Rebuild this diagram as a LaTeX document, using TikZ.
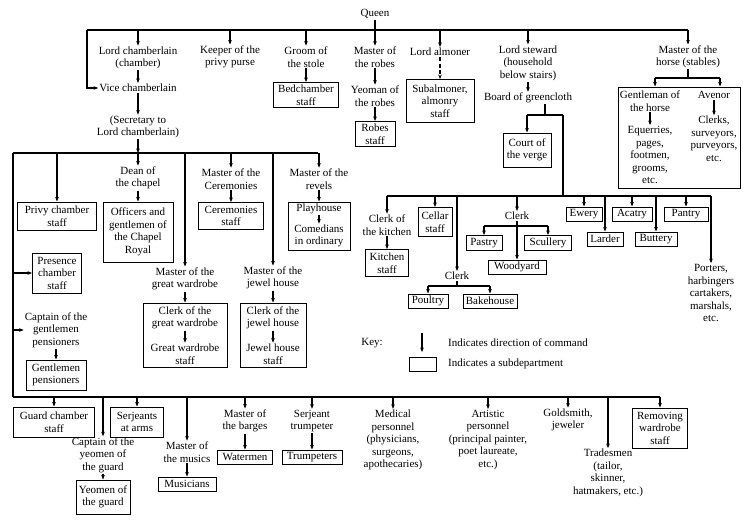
\documentclass[tikz,border=0pt]{standalone}
\usepackage{fontspec}
\setmainfont{Liberation Serif}
\usetikzlibrary{arrows.meta}
\begin{document}
\begin{tikzpicture}[x=1pt,y=-1pt,
  every node/.style={font=\fontsize{11}{12.5}\selectfont, align=center, inner sep=1pt},
  sub/.style={draw, line width=1pt, inner sep=2pt},
  ln/.style={line width=1.1pt},
  arr/.style={line width=1.1pt, -{Stealth[length=4.5pt,width=3.6pt]}},
]
\useasboundingbox (0,0) rectangle (743,523);

% ---------- top level ----------
\node (queen) at (375,14) {Queen};
\coordinate (tbL) at (87,30);
\coordinate (tbR) at (688,30);
\draw[ln] (tbL) -- (tbR);

\node (lc) at (138,58) {Lord chamberlain\\(chamber)};
\node (vc) at (138,88) {Vice chamberlain};
\node (sec) at (138,127) {(Secretary to\\Lord chamberlain)};
\node (kpp) at (230,57) {Keeper of the\\privy purse};
\node (gos) at (306,57) {Groom of\\the stole};
\node[sub, minimum width=65, minimum height=25] (bed) at (306,95) {Bedchamber\\staff};
\node (mor) at (375,57) {Master of\\the robes};
\node (yor) at (375,96) {Yeoman of\\the robes};
\node[sub, minimum width=40, minimum height=25] (robes) at (375,134) {Robes\\staff};
\node (la) at (440,52) {Lord almoner};
\node[sub, minimum width=68, minimum height=43] (suba) at (440,101) {Subalmoner,\\almonry\\staff};
\node (ls) at (528,63) {Lord steward\\(household\\below stairs)};
\node (bgc) at (528,98) {Board of greencloth};
\node[sub, minimum width=48, minimum height=34] (cov) at (527,150) {Court of\\the verge};
\node (moh) at (688,57) {Master of the\\horse (stables)};

\draw[arr] (tbL) |- (vc.west);
\draw[arr] (lc.north |- tbL) -- (lc.north);
\draw[arr] (lc) -- (vc);
\draw[arr] (vc) -- (sec);
\draw[arr] (kpp.north |- tbL) -- (kpp.north);
\draw[arr] (gos.north |- tbL) -- (gos.north);
\draw[arr] (gos) -- (bed);
\draw[arr] (queen) -- (mor);
\draw[arr] (mor) -- (yor);
\draw[arr] (yor) -- (robes);
\draw[arr] (la.north |- tbL) -- (la.north);
\draw[arr, dash pattern=on 4pt off 2.5pt] (la) -- (suba);
\draw[arr] (ls.north |- tbL) -- (ls.north);
\draw[arr] (ls) -- (bgc);

% board of greencloth branches
\coordinate (gcL) at (527,115);
\coordinate (gcM) at (545,115);
\coordinate (gcR) at (563,115);
\draw[ln] (gcM |- bgc.south) -- (gcM);
\draw[ln] (gcL) -- (gcR);
\draw[arr] (gcL) -- (cov.north);

% ---------- stables ----------
\coordinate (hbL) at (655,78);
\coordinate (hbR) at (720,78);
\draw[arr] (moh.north |- tbL) -- (moh.north);
\draw[ln] (moh.south) -- (moh.south |- hbL);
\draw[ln] (hbL) -- (hbR);
\node[draw, line width=1pt, minimum width=122, minimum height=101, inner sep=0pt] (stab) at (679,137.5) {};
\draw[arr] (hbL) -- (hbL |- stab.north);
\draw[arr] (hbR) -- (hbR |- stab.north);
\node (goh) at (650,101) {Gentleman of\\the horse};
\node (eq) at (650,155) {Equerries,\\pages,\\footmen,\\grooms,\\etc.};
\node (av) at (714,95) {Avenor};
\node (clk) at (714,139) {Clerks,\\surveyors,\\purveyors,\\etc.};
\draw[arr] (goh) -- (eq);
\draw[arr] (av) -- (clk);

% ---------- chamber: middle bus ----------
\coordinate (mbL) at (13,153);
\coordinate (mbR) at (318,153);
\draw[ln] (mbL) -- (mbR);
\draw[arr] (sec.south) -- (sec.south |- mbL);

\node[sub, minimum width=79, minimum height=28] (privy) at (57,216) {Privy chamber\\staff};
\draw[arr] (privy.north |- mbL) -- (privy.north);

\node (dean) at (138,178) {Dean of\\the chapel};
\node[sub, minimum width=70, minimum height=60] (chapel) at (138,232) {Officers and\\gentlemen of\\the Chapel\\Royal};
\draw[arr] (dean.north |- mbL) -- (dean.north);
\draw[arr] (dean) -- (chapel);

\node (moc) at (231,179) {Master of the\\Ceremonies};
\node[sub, minimum width=65, minimum height=27] (cer) at (231,216) {Ceremonies\\staff};
\draw[arr] (moc.north |- mbL) -- (moc.north);
\draw[arr] (moc) -- (cer);

\node (mrev) at (319,179) {Master of the\\revels};
\draw[arr] (mrev.north |- mbL) -- (mrev.north);
\node[draw, line width=1pt, minimum width=62, minimum height=48, inner sep=0pt] (playbox) at (319,226) {};
\node (play) at (319,209) {Playhouse};
\node (com) at (319,236) {Comedians\\in ordinary};
\draw[arr] (mrev) -- (playbox);
\draw[arr] (play) -- (com);

\node (mgw) at (185,279) {Master of the\\great wardrobe};
\draw[arr] (mgw.north |- mbL) -- (mgw.north);
\node[draw, line width=1pt, minimum width=84, minimum height=64, inner sep=0pt] (gwbox) at (185,335) {};
\node (cgw) at (185,318) {Clerk of the\\great wardrobe};
\node (gws) at (185,354) {Great wardrobe\\staff};
\draw[arr] (mgw) -- (gwbox);
\draw[arr] (cgw) -- (gws);

\node (mjh) at (273,278) {Master of the\\jewel house};
\draw[arr] (mjh.north |- mbL) -- (mjh.north);
\node[draw, line width=1pt, minimum width=66, minimum height=64, inner sep=0pt] (jhbox) at (273,335) {};
\node (cjh) at (273,318) {Clerk of the\\jewel house};
\node (jhs) at (273,354) {Jewel house\\staff};
\draw[arr] (mjh) -- (jhbox);
\draw[arr] (cjh) -- (jhs);

% ---------- left column ----------
\coordinate (bbL) at (13,397);
\coordinate (bbR) at (660,397);
\draw[ln] (mbL) -- (bbL);
\draw[ln] (bbL) -- (bbR);

\node[sub, minimum width=49, minimum height=40] (pres) at (57,273) {Presence\\chamber\\staff};
\draw[arr] (pres.west -| mbL) -- (pres.west);
\node (cgp) at (56,330) {Captain of the\\gentlemen\\pensioners};
\draw[arr] (cgp.west -| mbL) -- (cgp.west);
\node[sub, minimum width=60, minimum height=30] (gp) at (56,375) {Gentlemen\\pensioners};
\draw[arr] (cgp) -- (gp);

% ---------- bottom row ----------
\node[sub, minimum width=81, minimum height=30] (guard) at (54,422) {Guard chamber\\staff};
\draw[arr] (guard.north |- bbL) -- (guard.north);
\node (cyg) at (103,455) {Captain of the\\yeomen of\\the guard};
\draw[arr] (cyg.north |- bbL) -- (cyg.north);
\node[sub, minimum width=54, minimum height=34] (yg) at (103,497) {Yeomen of\\the guard};
\draw[arr] (cyg) -- (yg);
\node[sub, minimum width=53, minimum height=30] (saa) at (137,422) {Serjeants\\at arms};
\draw[arr] (saa.north |- bbL) -- (saa.north);
\node (mm) at (187,452) {Master of\\the musics};
\draw[arr] (mm.north |- bbL) -- (mm.north);
\node[sub, minimum width=58, minimum height=14] (mus) at (187,484) {Musicians};
\draw[arr] (mm) -- (mus);
\node (mob) at (245,421) {Master of\\the barges};
\draw[arr] (mob.north |- bbL) -- (mob.north);
\node[sub, minimum width=55, minimum height=14] (wat) at (245,457) {Watermen};
\draw[arr] (mob) -- (wat);
\node (st) at (312,421) {Serjeant\\trumpeter};
\draw[arr] (st.north |- bbL) -- (st.north);
\node[sub, minimum width=60, minimum height=14] (tru) at (312,457) {Trumpeters};
\draw[arr] (st) -- (tru);
\node (med) at (393,440) {Medical\\personnel\\(physicians,\\surgeons,\\apothecaries)};
\draw[arr] (med.north |- bbL) -- (med.north);
\node (art) at (488,440) {Artistic\\personnel\\(principal painter,\\poet laureate,\\etc.)};
\draw[arr] (art.north |- bbL) -- (art.north);
\node (gold) at (568,420) {Goldsmith,\\jeweler};
\draw[arr] (gold.north |- bbL) -- (gold.north);
\node (trad) at (608,473) {Tradesmen\\(tailor,\\skinner,\\hatmakers, etc.)};
\draw[arr] (trad.north |- bbL) -- (trad.north);
\node[sub, minimum width=55, minimum height=40] (rws) at (660,428) {Removing\\wardrobe\\staff};
\draw[arr] (bbR) -- (rws.north);

% ---------- key ----------
\node (key) at (372,343) {Key:};
\coordinate (ka1) at (422,333);
\coordinate (ka2) at (422,352);
\draw[arr] (ka1) -- (ka2);
\node[anchor=west] (kt1) at (447,343) {Indicates direction of command};
\node[draw, line width=1pt, minimum width=27, minimum height=14, inner sep=0pt] (kbox) at (423,364) {};
\node[anchor=west] (kt2) at (447,364) {Indicates a subdepartment};

% ---------- below stairs ----------
\coordinate (kbL) at (387,196);
\coordinate (kbR) at (711,196);
\draw[ln] (kbL) -- (kbR);
\draw[ln] (gcR) -- (gcR |- kbL);

\node (cok) at (387,225) {Clerk of\\the kitchen};
\draw[arr] (kbL) -- (cok.north);
\node[sub, minimum width=43, minimum height=27] (kit) at (387,263) {Kitchen\\staff};
\draw[arr] (cok) -- (kit);
\node[sub, minimum width=34, minimum height=29] (cel) at (435,222) {Cellar\\staff};
\draw[arr] (cel.north |- kbL) -- (cel.north);

\node (clk2) at (457,276) {Clerk};
\draw[arr] (clk2.north |- kbL) -- (clk2.north);
\coordinate (c2bL) at (428,286);
\coordinate (c2bR) at (490,286);
\draw[ln] (clk2.south) -- (clk2.south |- c2bL);
\draw[ln] (c2bL) -- (c2bR);
\node[sub, minimum width=40, minimum height=14] (poul) at (428,301) {Poultry};
\node[sub, minimum width=54, minimum height=14] (bake) at (490,301) {Bakehouse};
\draw[arr] (c2bL) -- (poul.north);
\draw[arr] (c2bR) -- (bake.north);

\node (clk1) at (517,216) {Clerk};
\draw[arr] (clk1.north |- kbL) -- (clk1.north);
\coordinate (c1bL) at (484,226);
\coordinate (c1bR) at (548,226);
\draw[ln] (c1bL) -- (c1bR);
\node[sub, minimum width=36, minimum height=15] (pastry) at (484,243) {Pastry};
\node[sub, minimum width=47, minimum height=15] (scul) at (548,243) {Scullery};
\node[sub, minimum width=58, minimum height=14] (wood) at (517,267) {Woodyard};
\draw[arr] (c1bL) -- (pastry.north);
\draw[arr] (c1bR) -- (scul.north);
\draw[arr] (clk1.south) -- (wood.north);

\node[sub, minimum width=36, minimum height=14] (ewery) at (584,214) {Ewery};
\node[sub, minimum width=36, minimum height=14] (larder) at (605,239) {Larder};
\node[sub, minimum width=40, minimum height=14] (acat) at (632,214) {Acatry};
\node[sub, minimum width=42, minimum height=14] (butt) at (656,239) {Buttery};
\node[sub, minimum width=44, minimum height=14] (pant) at (686,214) {Pantry};
\draw[arr] (ewery.north |- kbL) -- (ewery.north);
\draw[arr] (larder.north |- kbL) -- (larder.north);
\draw[arr] (acat.north |- kbL) -- (acat.north);
\draw[arr] (butt.north |- kbL) -- (butt.north);
\draw[arr] (pant.north |- kbL) -- (pant.north);
\node (port) at (711,293) {Porters,\\harbingers\\cartakers,\\marshals,\\etc.};
\draw[arr] (kbR) -- (port.north);
\end{tikzpicture}
\end{document}
